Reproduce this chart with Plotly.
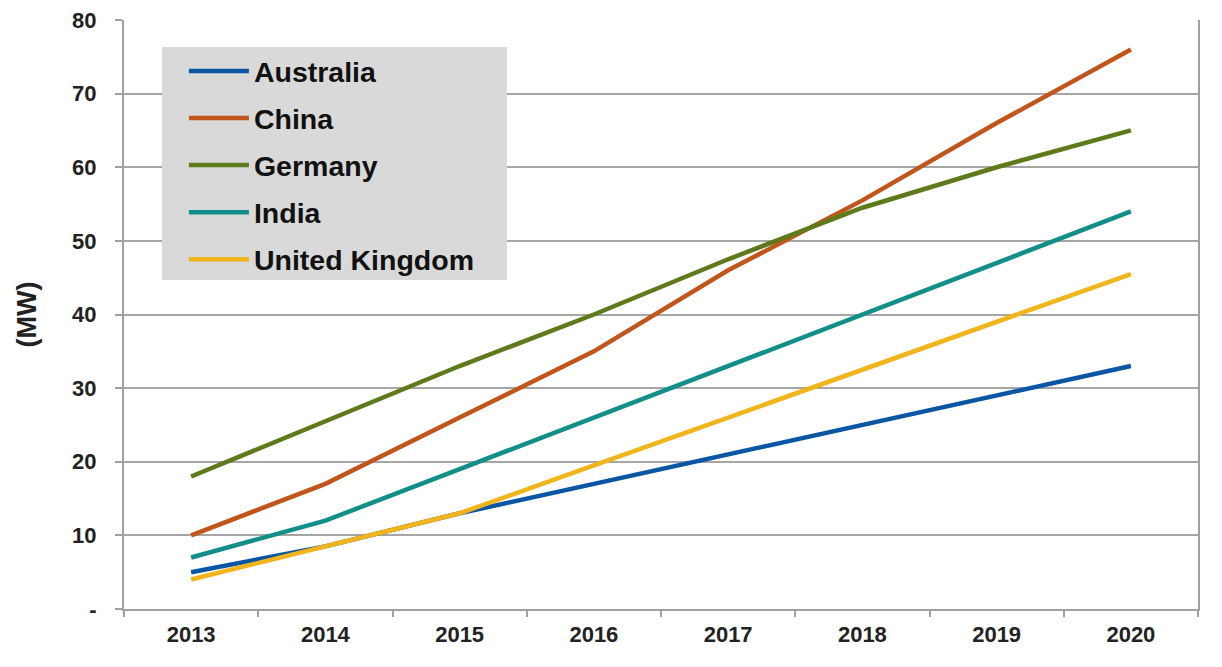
import plotly.graph_objects as go

years = ["2013", "2014", "2015", "2016", "2017", "2018", "2019", "2020"]
australia = [5, 8.5, 13, 17, 21, 25, 29, 33]
china = [10, 17, 26, 35, 46, 55.5, 66, 76]
germany = [18, 25.5, 33, 40, 47.5, 54.5, 60, 65]
india = [7, 12, 19, 26, 33, 40, 47, 54]
uk = [4, 8.5, 13, 19.5, 26, 32.5, 39, 45.5]

series_names = ["Australia", "China", "Germany", "India", "United Kingdom"]
series_values = [australia, china, germany, india, uk]
colors = ["#0b56a4", "#c0561b", "#5e7a1b", "#128f88", "#f1b41b"]

ytick_vals = [0, 10, 20, 30, 40, 50, 60, 70, 80]
ytick_text = ["-", "10", "20", "30", "40", "50", "60", "70", "80"]

fig = go.Figure()
for i, (name, vals, col) in enumerate(zip(series_names, series_values, colors)):
    fig.add_trace(go.Scatter(
        x=years, y=vals, name=name, mode="lines",
        line=dict(color=col, width=4.5),
        legendgroup=str(i),
    ))

# gray legend background box
fig.add_shape(
    type="rect", xref="paper", yref="paper",
    x0=0.0354, x1=0.3566, y0=0.5586, y1=0.954,
    fillcolor="#d9d9d9", line=dict(width=0), layer="above",
)

fig.update_layout(
    width=1206, height=651,
    margin=dict(l=116, r=16, t=12, b=50),
    paper_bgcolor="white", plot_bgcolor="white",
    font=dict(family="Liberation Sans, Arial, sans-serif", color="#222222"),
    showlegend=True,
    legend=dict(
        x=0.0558, y=0.9559, xanchor="left", yanchor="top",
        bgcolor="rgba(0,0,0,0)", borderwidth=0,
        font=dict(size=28.5, color="#111111", weight="bold"),
        itemwidth=60, traceorder="grouped", tracegroupgap=7,
    ),
    xaxis=dict(
        type="category", tickson="boundaries", automargin=False,
        ticks="outside", ticklen=6, tickcolor="#a0a0a0", tickwidth=1.5,
        ticklabelstandoff=5,
        showline=True, linecolor="#a0a0a0", linewidth=2,
        showgrid=False, mirror=False,
        tickfont=dict(size=22, weight="bold", color="#222222"),
        range=[-0.5, 7.5],
    ),
    yaxis=dict(
        range=[0, 80], tickvals=ytick_vals, ticktext=ytick_text,
        automargin=False, ticklabeloverflow="allow",
        ticks="outside", ticklen=7, tickcolor="#a0a0a0", tickwidth=1.5,
        ticklabelstandoff=14,
        showline=True, linecolor="#a0a0a0", linewidth=2, mirror=True,
        showgrid=True, gridcolor="#a6a6a6", gridwidth=1.8,
        zeroline=False,
        tickfont=dict(size=22, weight="bold", color="#222222"),
        title=dict(text="(MW)", font=dict(size=27, weight="bold", color="#222222"), standoff=28),
    ),
)

fig.write_html("out.html")
